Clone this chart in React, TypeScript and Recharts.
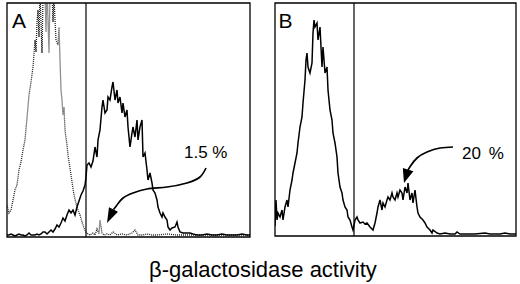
import React from 'react';
import { LineChart, Line, XAxis, YAxis, ReferenceLine, ReferenceArea, ReferenceDot } from 'recharts';

// Panel A – sample (solid) histogram: channel / counts
const aSampleX = [0, 2, 4, 6, 8, 10, 12, 14, 16, 18, 20, 22, 24, 26, 28, 30, 32, 34, 36, 38, 40, 42, 44, 46, 48, 50, 52, 54, 56, 58, 60, 62, 64, 66, 68, 70, 72, 74, 76, 78, 79, 80, 82, 84, 86, 88, 90, 91, 93, 95, 96, 98, 100, 101, 103, 105, 106, 108, 110, 111, 113, 115, 116, 118, 120, 121, 123, 125, 126, 128, 130, 131, 133, 135, 136, 138, 140, 141, 143, 145, 146, 148, 150, 151, 153, 155, 156, 158, 160, 161, 163, 165, 168, 170, 171, 173, 176, 179, 183, 186, 190, 195, 200, 205, 210, 215, 220, 225, 230, 235, 240, 243];
const aSampleV = [2, 2, 3, 2, 1, 2, 3, 2, 2, 1, 2, 4, 2, 2, 2, 3, 2, 3, 5, 5, 3, 5, 7, 5, 8, 12, 10, 14, 19, 16, 22, 27, 24, 27, 22, 30, 36, 42, 46, 52, 60, 72, 74, 70, 76, 90, 80, 97, 107, 130, 137, 124, 127, 140, 137, 150, 155, 137, 147, 134, 140, 124, 134, 120, 127, 110, 90, 104, 110, 100, 117, 97, 110, 117, 80, 84, 67, 57, 64, 54, 47, 44, 37, 30, 24, 20, 24, 20, 17, 10, 7, 9, 10, 15, 10, 5, 4, 4, 4, 3, 2, 2, 3, 2, 2, 3, 2, 2, 2, 3, 2, 2];

// Panel A – control (dotted) histogram
const aControlX = [0, 2, 4, 6, 8, 10, 12, 14, 16, 18, 20, 22, 24, 26, 28, 29, 30, 31, 32, 33, 35, 36, 38, 39, 40, 42, 43, 45, 46, 47, 48, 49, 51, 52, 53, 54, 55, 56, 57, 58, 60, 61, 63, 65, 67, 69, 71, 73, 75, 77, 79, 81, 83, 86, 88, 90, 92, 93, 95, 97, 100, 103, 106, 110, 115, 120, 125, 128, 131, 135, 140, 145, 150, 160, 170, 180, 190, 200, 210, 220, 230, 243];
const aControlV = [32, 24, 27, 37, 47, 52, 67, 75, 87, 97, 119, 142, 155, 170, 197, 185, 215, 227, 200, 245, 184, 240, 245, 205, 250, 184, 245, 250, 215, 240, 217, 197, 192, 210, 177, 147, 137, 122, 130, 107, 92, 82, 69, 55, 42, 34, 27, 22, 15, 9, 5, 3, 2, 4, 2, 8, 3, 17, 4, 2, 3, 2, 5, 2, 3, 2, 4, 7, 2, 2, 3, 2, 2, 3, 2, 2, 2, 2, 2, 2, 2, 2];

// Panel B – histogram
const bX = [0, 1, 2, 3, 5, 7, 8, 10, 12, 13, 15, 17, 18, 20, 22, 23, 25, 27, 28, 30, 31, 32, 33, 35, 37, 38, 39, 40, 42, 43, 45, 47, 48, 50, 52, 53, 55, 57, 58, 60, 62, 63, 65, 67, 68, 70, 72, 73, 75, 77, 78, 80, 82, 83, 85, 88, 90, 92, 95, 98, 100, 102, 103, 105, 107, 108, 110, 112, 113, 115, 117, 118, 120, 122, 123, 125, 127, 128, 130, 132, 133, 135, 137, 138, 140, 142, 143, 145, 148, 150, 152, 155, 157, 158, 162, 165, 170, 175, 180, 182, 185, 190, 200, 210, 215, 225, 230, 235, 241];
const bV = [10, 36, 16, 23, 19, 26, 16, 29, 36, 29, 46, 56, 63, 73, 83, 93, 109, 119, 133, 156, 176, 183, 169, 163, 173, 203, 216, 209, 213, 196, 209, 169, 189, 163, 169, 146, 126, 116, 103, 93, 79, 63, 49, 43, 36, 29, 26, 19, 16, 9, 6, 16, 19, 16, 13, 14, 12, 13, 9, 6, 13, 23, 29, 36, 26, 33, 29, 36, 39, 36, 43, 39, 36, 43, 39, 46, 43, 36, 49, 43, 53, 36, 43, 33, 46, 29, 23, 19, 16, 13, 9, 6, 3, 6, 3, 2, 3, 2, 2, 4, 2, 2, 2, 3, 2, 2, 3, 2, 2];

// Annotation arrows (data coordinates)
const aArrowX = [199, 193, 180, 160, 140, 126, 116, 110, 106.5];
const aArrowV = [69, 60, 54, 50, 48, 44, 39, 32, 27.5];
const bArrowX = [178, 165, 152, 142, 135.5, 133];
const bArrowV = [89, 88, 84, 78, 70, 66];

const gateChannel = 79;
const aDomainX = 243;
const aDomainY = 234;
const bDomainX = 241;
const bDomainY = 233;
const decadeFactors = [1, 2, 3, 4, 5, 6, 7, 8, 9];
const decades = [0, 1, 2, 3];

const logTicks = (span: number) => {
  const per = span / 4;
  const t: number[] = [];
  decades.forEach((d) => decadeFactors.forEach((k) => t.push(per * (d + Math.log10(k)))));
  t.push(span);
  return t;
};

const zip = (xs: number[], vs: number[]) => xs.map((x, i) => ({ x, v: vs[i] }));

const arrowHead = (angleDeg: number, len: number, half: number) => (props: any) => {
  const { cx, cy } = props;
  const a = (angleDeg * Math.PI) / 180;
  const dx = Math.cos(a);
  const dy = Math.sin(a);
  const bx = cx - dx * len;
  const by = cy - dy * len;
  const px = -dy * half;
  const py = dx * half;
  return <polygon points={`${cx},${cy} ${bx + px},${by + py} ${bx - px},${by - py}`} fill="#000" />;
};

const FONT = '"Liberation Sans", Arial, Helvetica, sans-serif';

const txt = (s: string, left: number, top: number, size: number, wordSpacing = 0) => (
  <div style={{ position: 'absolute', left, top, fontSize: size, lineHeight: 1, fontFamily: FONT, color: '#000', whiteSpace: 'pre', wordSpacing }}>{s}</div>
);

export default function App() {
  const aTicks = logTicks(aDomainX);
  const bTicks = logTicks(bDomainX);
  return (
    <div style={{ position: 'absolute', left: 0, top: 0, width: 520, height: 284, background: '#fff', overflow: 'hidden' }}>
      <div style={{ position: 'absolute', left: 0, top: 0 }}>
        <LineChart width={260} height={245} margin={{ top: 3, right: 10, bottom: 8, left: 7 }}>
          <XAxis type="number" dataKey="x" domain={[0, aDomainX]} ticks={aTicks} interval={0} tick={false} tickSize={3} height={0} allowDataOverflow axisLine={{ stroke: '#000', strokeWidth: 1.3 }} tickLine={{ stroke: '#000', strokeWidth: 1.2 }} />
          <YAxis type="number" domain={[0, aDomainY]} hide allowDataOverflow />
          <ReferenceArea x1={0} x2={aDomainX} y1={0} y2={aDomainY} fill="none" stroke="#000" strokeWidth={1.3} fillOpacity={0} />
          <ReferenceLine x={gateChannel} stroke="#000" strokeWidth={1.2} />
          <Line data={zip(aControlX, aControlV)} dataKey="v" type="linear" stroke="#222" strokeWidth={1.3} strokeDasharray="1 1" dot={false} isAnimationActive={false} />
          <Line data={zip(aSampleX, aSampleV)} dataKey="v" type="linear" stroke="#000" strokeWidth={1.5} dot={false} isAnimationActive={false} />
          <Line data={zip(aArrowX, aArrowV)} dataKey="v" type="natural" stroke="#000" strokeWidth={1.7} dot={false} isAnimationActive={false} />
          <ReferenceDot x={100} y={14} r={1} shape={arrowHead(115.7, 15, 5)} />
        </LineChart>
      </div>
      <div style={{ position: 'absolute', left: 260, top: 0 }}>
        <LineChart width={260} height={245} margin={{ top: 3, right: 4, bottom: 9, left: 15 }}>
          <XAxis type="number" dataKey="x" domain={[0, bDomainX]} ticks={bTicks} interval={0} tick={false} tickSize={3} height={0} allowDataOverflow axisLine={{ stroke: '#000', strokeWidth: 1.3 }} tickLine={{ stroke: '#000', strokeWidth: 1.2 }} />
          <YAxis type="number" domain={[0, bDomainY]} hide allowDataOverflow />
          <ReferenceArea x1={0} x2={bDomainX} y1={0} y2={bDomainY} fill="none" stroke="#000" strokeWidth={1.3} fillOpacity={0} />
          <ReferenceLine x={gateChannel} stroke="#000" strokeWidth={1.2} />
          <Line data={zip(bX, bV)} dataKey="v" type="linear" stroke="#000" strokeWidth={1.5} dot={false} isAnimationActive={false} />
          <Line data={zip(bArrowX, bArrowV)} dataKey="v" type="natural" stroke="#000" strokeWidth={1.7} dot={false} isAnimationActive={false} />
          <ReferenceDot x={129} y={53} r={1} shape={arrowHead(107, 14, 5.5)} />
        </LineChart>
      </div>
      {txt('A', 12, 10, 21)}
      {txt('B', 278.5, 10, 21)}
      {txt('1.5 %', 184, 143.6, 17)}
      {txt('20 %', 462, 144.6, 17, 3)}
      {txt('β-galactosidase activity', 149, 259.4, 22)}
    </div>
  );
}
